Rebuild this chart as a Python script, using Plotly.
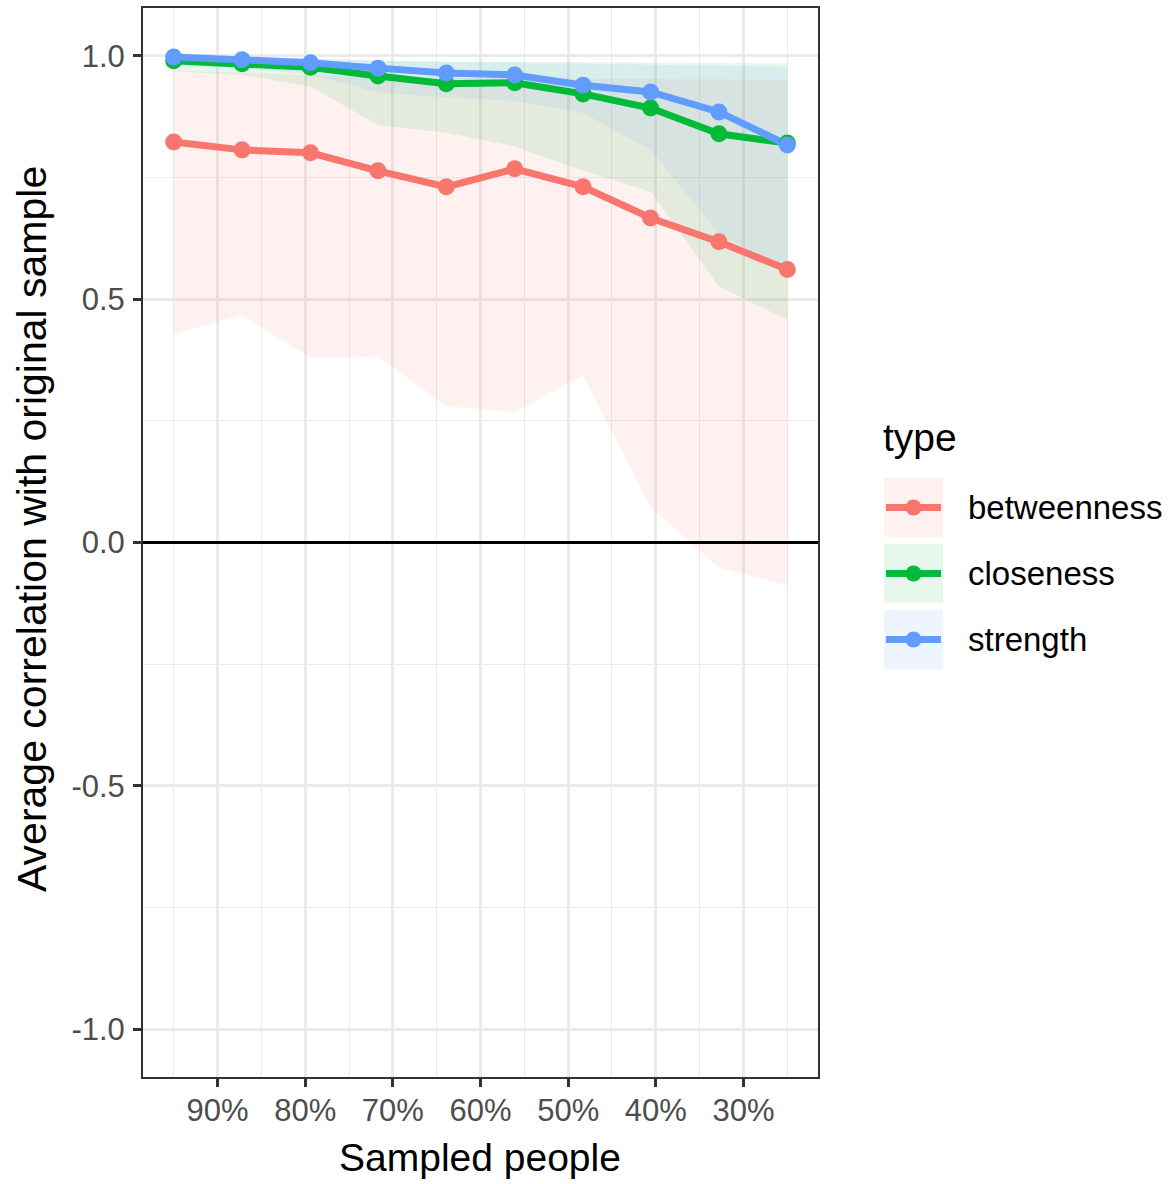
import plotly.graph_objects as go

# ---------------- data ----------------
sampled = [95.0, 87.2, 79.4, 71.7, 63.9, 56.1, 48.3, 40.6, 32.8, 25.0]  # % of people sampled
types = ["betweenness", "closeness", "strength"]

betweenness_mean = [0.823, 0.807, 0.801, 0.764, 0.731, 0.768, 0.731, 0.667, 0.618, 0.561]
betweenness_lower = [0.428, 0.468, 0.379, 0.383, 0.280, 0.268, 0.343, 0.072, -0.052, -0.088]
betweenness_upper = [0.970, 0.965, 0.960, 0.956, 0.955, 0.955, 0.953, 0.952, 0.951, 0.951]

closeness_mean = [0.990, 0.984, 0.977, 0.959, 0.943, 0.945, 0.922, 0.893, 0.840, 0.821]
closeness_lower = [0.968, 0.961, 0.937, 0.858, 0.842, 0.814, 0.764, 0.721, 0.526, 0.458]
closeness_upper = [1.000, 0.998, 0.995, 0.990, 0.988, 0.988, 0.987, 0.986, 0.985, 0.985]

strength_mean = [0.998, 0.992, 0.986, 0.975, 0.965, 0.961, 0.940, 0.926, 0.885, 0.817]
strength_lower = [0.980, 0.975, 0.962, 0.925, 0.915, 0.908, 0.883, 0.807, 0.635, 0.560]
strength_upper = [1.000, 0.998, 0.995, 0.990, 0.988, 0.987, 0.985, 0.983, 0.980, 0.978]

x_tick_vals = [90, 80, 70, 60, 50, 40, 30]
x_tick_text = ["90%", "80%", "70%", "60%", "50%", "40%", "30%"]
x_minor_vals = [95, 85, 75, 65, 55, 45, 35, 25]
y_tick_vals = [-1.0, -0.5, 0.0, 0.5, 1.0]
y_tick_text = ["-1.0", "-0.5", "0.0", "0.5", "1.0"]
y_minor_vals = [-0.75, -0.25, 0.25, 0.75]

colors = {"betweenness": "#F8766D", "closeness": "#00BA38", "strength": "#619CFF"}
fills = {"betweenness": "rgba(248,118,109,0.1)", "closeness": "rgba(0,186,56,0.1)",
         "strength": "rgba(97,156,255,0.1)"}
series = {
    "betweenness": (betweenness_mean, betweenness_lower, betweenness_upper),
    "closeness": (closeness_mean, closeness_lower, closeness_upper),
    "strength": (strength_mean, strength_lower, strength_upper),
}

# ---------------- geometry ----------------
W, H = 1173, 1184
PL, PR, PT, PB = 143, 818, 8, 1077
FONT = "Liberation Sans, Arial, sans-serif"


def px(xp):
    return (xp - PL) / (PR - PL)


def py(yp):
    return (PB - yp) / (PB - PT)


fig = go.Figure()

# ribbons
for t in types:
    m, lo, up = series[t]
    fig.add_trace(go.Scatter(
        x=sampled + sampled[::-1], y=up + lo[::-1], fill="toself",
        fillcolor=fills[t], line=dict(width=0), mode="lines",
        hoverinfo="skip", showlegend=False))

# lines
for t in types:
    m, lo, up = series[t]
    fig.add_trace(go.Scatter(x=sampled, y=m, mode="lines",
                             line=dict(color=colors[t], width=7), showlegend=False))
# points
for t in types:
    m, lo, up = series[t]
    fig.add_trace(go.Scatter(x=sampled, y=m, mode="markers",
                             marker=dict(color=colors[t], size=17), showlegend=False))

# ---------------- shapes / legend ----------------
shapes = []
annotations = []

# zero reference line
shapes.append(dict(type="line", xref="paper", yref="y", x0=0, x1=1, y0=0, y1=0,
                   line=dict(color="black", width=3), layer="above"))

annotations.append(dict(x=px(881), y=py(437), xref="paper", yref="paper", text="type",
                        showarrow=False, xanchor="left", yanchor="middle",
                        font=dict(size=39, color="black", family=FONT)))
key_tops = [478, 544, 610]
for t, top in zip(types, key_tops):
    bot = top + 59
    cy = (top + bot) / 2
    shapes.append(dict(type="rect", xref="paper", yref="paper",
                       x0=px(884), x1=px(943), y0=py(bot), y1=py(top),
                       fillcolor=fills[t], line=dict(width=0), layer="above"))
    shapes.append(dict(type="line", xref="paper", yref="paper",
                       x0=px(886), x1=px(941), y0=py(cy), y1=py(cy),
                       line=dict(color=colors[t], width=7), layer="above"))
    r = 8
    shapes.append(dict(type="circle", xref="paper", yref="paper",
                       x0=px(913.5 - r), x1=px(913.5 + r), y0=py(cy + r), y1=py(cy - r),
                       fillcolor=colors[t], line=dict(width=0), layer="above"))
    annotations.append(dict(x=px(966), y=py(cy), xref="paper", yref="paper", text=t,
                            showarrow=False, xanchor="left", yanchor="middle",
                            font=dict(size=33, color="black", family=FONT)))

# axis titles
annotations.append(dict(x=px(480), y=py(1157), xref="paper", yref="paper",
                        text="Sampled people", showarrow=False,
                        xanchor="center", yanchor="middle",
                        font=dict(size=39, color="black", family=FONT)))
annotations.append(dict(x=px(32), y=py(529), xref="paper", yref="paper",
                        text="Average correlation with original sample", showarrow=False,
                        textangle=-90, xanchor="center", yanchor="middle",
                        font=dict(size=41, color="black", family=FONT)))

fig.update_layout(
    width=W, height=H,
    margin=dict(l=PL, r=W - PR, t=PT, b=H - PB, autoexpand=False),
    paper_bgcolor="white", plot_bgcolor="white",
    shapes=shapes, annotations=annotations, showlegend=False,
    font=dict(family=FONT),
)
fig.update_xaxes(
    range=[98.5, 21.5], tickmode="array", tickvals=x_tick_vals, ticktext=x_tick_text,
    showgrid=True, gridcolor="#EBEBEB", gridwidth=2.5,
    minor=dict(tickmode="array", tickvals=x_minor_vals, showgrid=True,
               gridcolor="#EBEBEB", gridwidth=1.2, ticklen=0),
    ticks="outside", ticklen=8, tickwidth=2.5, tickcolor="#333333",
    tickfont=dict(size=31, color="#4D4D4D", family=FONT),
    showline=True, mirror=True, linecolor="#333333", linewidth=2,
    zeroline=False, ticklabelstandoff=-3,
)
fig.update_yaxes(
    range=[-1.0986, 1.0986], tickmode="array", tickvals=y_tick_vals, ticktext=y_tick_text,
    showgrid=True, gridcolor="#EBEBEB", gridwidth=2.5,
    minor=dict(tickmode="array", tickvals=y_minor_vals, showgrid=True,
               gridcolor="#EBEBEB", gridwidth=1.2, ticklen=0),
    ticks="outside", ticklen=8, tickwidth=2.5, tickcolor="#333333",
    tickfont=dict(size=31, color="#4D4D4D", family=FONT),
    showline=True, mirror=True, linecolor="#333333", linewidth=2,
    zeroline=False, ticklabelstandoff=2,
)

fig.write_html("out.html")
